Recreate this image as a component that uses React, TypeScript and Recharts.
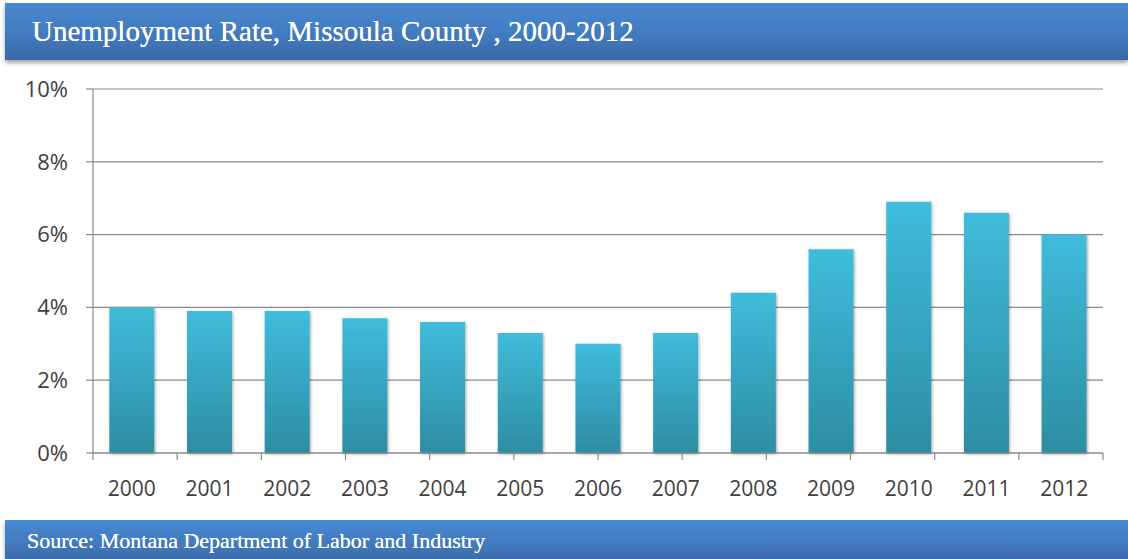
import React from "react";
import { BarChart, Bar, XAxis, YAxis, CartesianGrid } from "recharts";

const years = ["2000", "2001", "2002", "2003", "2004", "2005", "2006", "2007", "2008", "2009", "2010", "2011", "2012"];
const rates = [4.0, 3.9, 3.9, 3.7, 3.6, 3.3, 3.0, 3.3, 4.4, 5.6, 6.9, 6.6, 6.0];
const yTicks = [0, 2, 4, 6, 8, 10];
const edgeTicks = [0, 1, 2, 3, 4, 5, 6, 7, 8, 9, 10, 11, 12, 13];

const data = years.map((year, i) => ({ year, rate: rates[i] }));

const W = 1128;
const H = 559;

const barStyle: React.CSSProperties = {
  position: "absolute",
  left: 5,
  right: 0,
  background: "linear-gradient(to bottom, #4789d2 0%, #4279bd 60%, #3a67a5 100%)",
  color: "#ffffff",
  fontFamily: "'Liberation Serif', 'DejaVu Serif', serif",
  boxShadow: "0 3px 4px rgba(0,0,0,0.35)",
  display: "flex",
  alignItems: "center",
  whiteSpace: "nowrap",
  textShadow: "0 0 0.6px #fff",
};

const axisText = { fontSize: 21, fill: "#404040", fontFamily: "'Open Sans', sans-serif" };

export default function App() {
  return (
    <div style={{ position: "relative", width: W, height: H, background: "#fff", overflow: "hidden" }}>
      <style>{`body{margin:0}`}</style>
      <div style={{ ...barStyle, top: 3, height: 57 }}>
        <span style={{ marginLeft: 27, fontSize: 29 }}>
          Unemployment Rate, Missoula County , 2000-2012
        </span>
      </div>

      <div style={{ position: "absolute", left: 0, top: 0 }}>
        <BarChart
          width={W}
          height={H}
          data={data}
          margin={{ top: 89, right: 25, left: 0, bottom: 66 }}
          barCategoryGap="21%"
        >
          <defs>
            <linearGradient id="barFill" x1="0" y1="0" x2="0" y2="1">
              <stop offset="0%" stopColor="#40bcdc" />
              <stop offset="100%" stopColor="#2d8da3" />
            </linearGradient>
            <filter id="barShadow" x="-20%" y="-10%" width="140%" height="120%">
              <feDropShadow dx="1" dy="1" stdDeviation="1.5" floodColor="#000" floodOpacity="0.35" />
            </filter>
          </defs>
          <CartesianGrid vertical={false} stroke="#8a8a8a" strokeWidth={1.2} />
          <XAxis
            xAxisId="b"
            dataKey="year"
            height={39}
            axisLine={false}
            tickLine={false}
            tickSize={6}
            tickMargin={21}
            tick={axisText}
          />
          <XAxis
            xAxisId="a"
            type="number"
            domain={[0, 13]}
            ticks={edgeTicks}
            height={1}
            tickFormatter={() => ""}
            axisLine={{ stroke: "#8a8a8a", strokeWidth: 1.2 }}
            tickLine={{ stroke: "#8a8a8a", strokeWidth: 1.2 }}
            tickSize={7}
          />
          <YAxis
            width={93}
            domain={[0, 10]}
            ticks={yTicks}
            tickFormatter={(v) => `${v}%`}
            axisLine={{ stroke: "#8a8a8a", strokeWidth: 1.2 }}
            tickLine={{ stroke: "#8a8a8a", strokeWidth: 1.2 }}
            tickSize={7}
            tickMargin={18}
            tick={{ ...axisText, fontSize: 22 }}
          />
          <Bar
            xAxisId="b"
            dataKey="rate"
            fill="url(#barFill)"
            filter="url(#barShadow)"
            isAnimationActive={false}
          />
        </BarChart>
      </div>

      <div style={{ ...barStyle, top: 520, height: 42 }}>
        <span style={{ marginLeft: 22, fontSize: 22 }}>
          Source: Montana Department of Labor and Industry
        </span>
      </div>
    </div>
  );
}
